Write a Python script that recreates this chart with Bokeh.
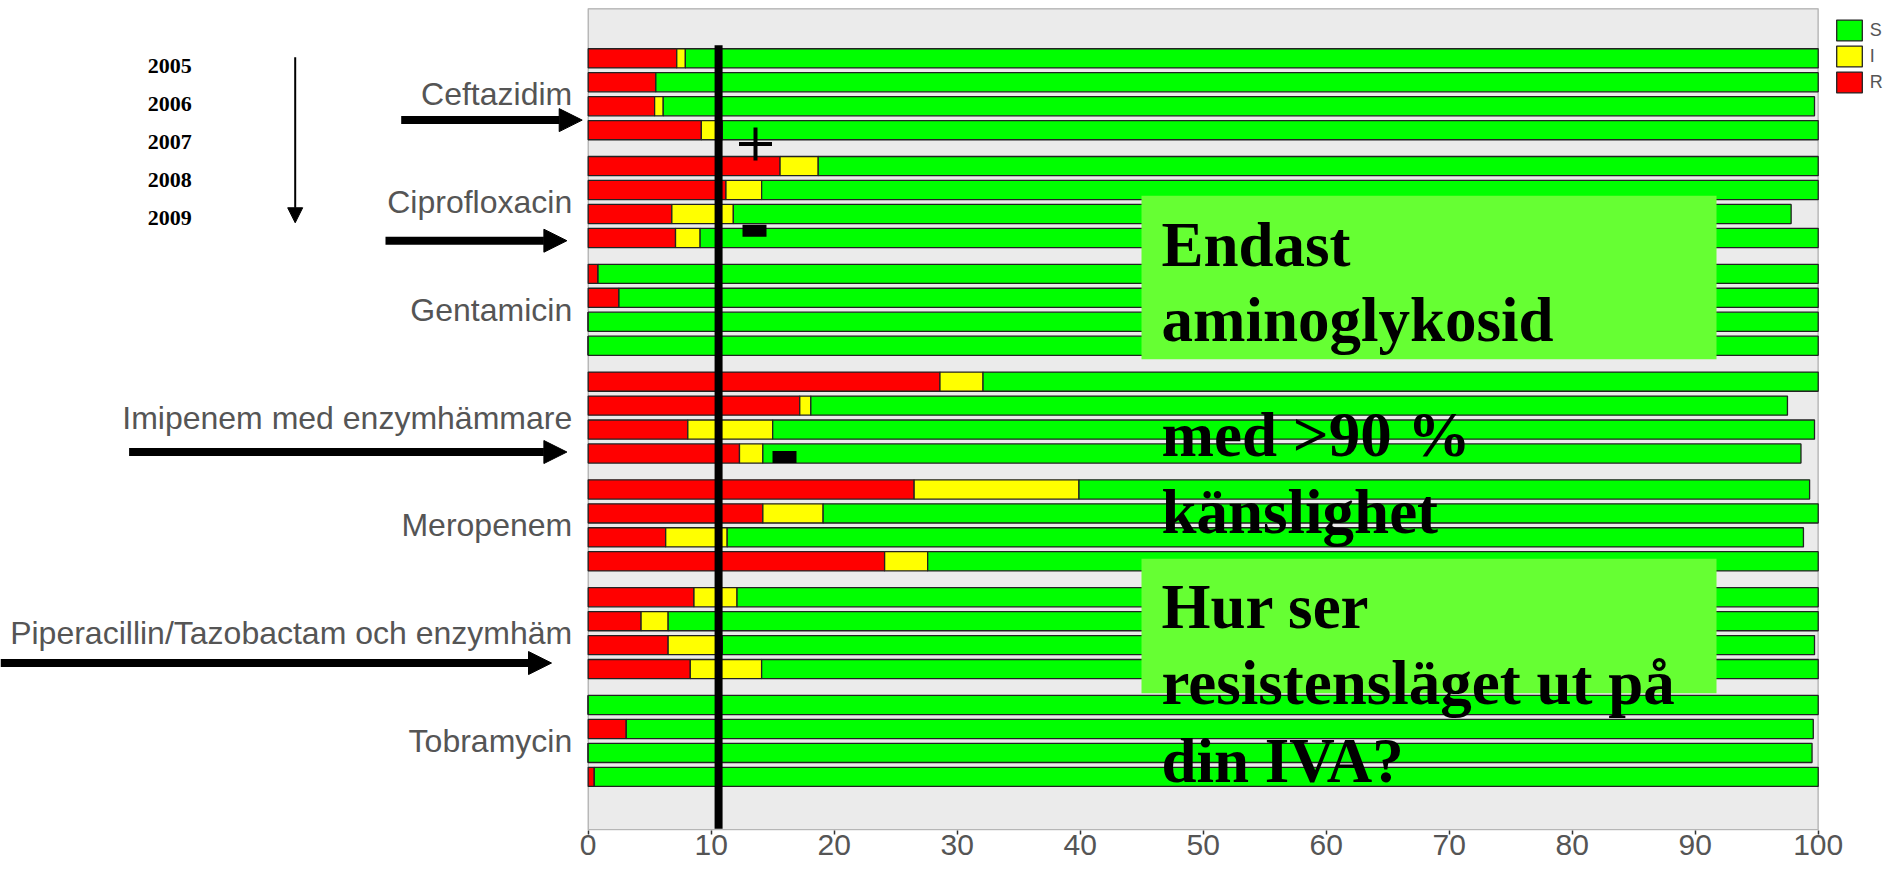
from bokeh.plotting import figure
from bokeh.models import (Range1d, FixedTicker, ColumnDataSource, Label, Arrow,
                          NormalHead, BoxAnnotation, Legend, LegendItem)
from bokeh.embed import file_html
from bokeh.resources import INLINE

# ---------------- data ----------------
antibiotics = ["Ceftazidim", "Ciprofloxacin", "Gentamicin",
               "Imipenem med enzymhämmare", "Meropenem",
               "Piperacillin/Tazobactam och enzymhäm", "Tobramycin"]
years = ["2005", "2006", "2007", "2008", "2009"]

# percent per antibiotic, four bars each (top to bottom)
resistant = [
    [7.2, 5.5, 5.4, 9.2],
    [15.6, 11.2, 6.8, 7.1],
    [0.8, 2.5, 0.0, 0.0],
    [28.6, 17.2, 8.1, 12.3],
    [26.5, 14.2, 6.3, 24.1],
    [8.6, 4.3, 6.5, 8.3],
    [0.0, 3.1, 0.0, 0.5],
]
intermediate = [
    [0.7, 0.0, 0.7, 1.7],
    [3.1, 2.9, 5.0, 2.0],
    [0.0, 0.0, 0.0, 0.0],
    [3.5, 0.9, 6.9, 1.9],
    [13.4, 4.9, 5.0, 3.5],
    [3.5, 2.2, 4.4, 5.8],
    [0.0, 0.0, 0.0, 0.0],
]
susceptible = [
    [92.1, 94.5, 93.6, 89.1],
    [81.3, 85.9, 86.0, 90.9],
    [99.2, 97.5, 100.0, 100.0],
    [67.9, 79.4, 84.7, 84.4],
    [59.4, 80.9, 87.5, 72.4],
    [87.9, 93.5, 88.8, 85.9],
    [100.0, 96.5, 99.5, 99.5],
]
x_ticks = [0, 10, 20, 30, 40, 50, 60, 70, 80, 90, 100]
breakpoint_line = 10.6

# ---------------- layout helpers ----------------
GROUP_PITCH = 4.5
BAR_H = 0.8
REF_X0, REF_PX = 587.7, 12.3     # reference pixel geometry for annotations
REF_Y0, REF_PY = 58.0, 24.03


def dx(px):
    return (px - REF_X0) / REF_PX


def dy(py):
    return (py - REF_Y0) / REF_PY


ys, r_end, i_end, s_end = [], [], [], []
for g in range(len(antibiotics)):
    for k in range(len(resistant[g])):
        ys.append(g * GROUP_PITCH + k)
        r = resistant[g][k]
        i = intermediate[g][k]
        s = susceptible[g][k]
        r_end.append(r)
        i_end.append(r + i)
        s_end.append(r + i + s)

src = ColumnDataSource(dict(y=ys, zero=[0] * len(ys), r=r_end, i=i_end, s=s_end))
centers = [g * GROUP_PITCH + 1.5 for g in range(len(antibiotics))]

W, H = 1888, 869
BOTTOM = 39
FRAME_H = H - BOTTOM
p = figure(width=W, height=H, output_backend="svg", toolbar_location=None,
           x_range=Range1d(dx(0), dx(W)), y_range=Range1d(dy(832.7), dy(0)),
           min_border_left=0, min_border_right=0, min_border_top=0,
           min_border_bottom=BOTTOM)
p.background_fill_color = "white"
p.border_fill_color = "white"
p.outline_line_color = None
p.xgrid.visible = False
p.ygrid.visible = False

# grey panel of the chart (0..100 %)
p.add_layout(BoxAnnotation(left=0, right=100, top=dy(8.3), bottom=dy(832.0),
                           fill_color="#EBEBEB", fill_alpha=1.0,
                           line_color="#333333", line_width=1.5, level="underlay"))

bar_kw = dict(height=BAR_H, line_color="#222222", line_width=1.3, source=src)
rR = p.hbar(y="y", left="zero", right="r", fill_color="#FF0000", **bar_kw)
rI = p.hbar(y="y", left="r", right="i", fill_color="#FFFF00", **bar_kw)
rS = p.hbar(y="y", left="i", right="s", fill_color="#00FF00", **bar_kw)

# axes
p.xaxis.ticker = FixedTicker(ticks=x_ticks)
p.xaxis.major_tick_out = 4
p.xaxis.major_tick_in = 0
p.xaxis.minor_tick_out = 0
p.xaxis.minor_tick_in = 0
p.xaxis.axis_line_color = None
p.xaxis.major_tick_line_color = "#333333"
p.xaxis.major_tick_line_width = 1.5
p.xaxis.major_label_text_font = "Liberation Sans"
p.xaxis.major_label_text_font_size = "30px"
p.xaxis.major_label_text_color = "#555555"
p.xaxis.major_label_standoff = 0

p.yaxis.fixed_location = 0
p.yaxis.ticker = FixedTicker(ticks=centers)
p.yaxis.major_label_overrides = {c: n for c, n in zip(centers, antibiotics)}
p.yaxis.axis_line_color = None
p.yaxis.major_tick_out = 0
p.yaxis.major_tick_in = 0
p.yaxis.minor_tick_out = 0
p.yaxis.minor_tick_in = 0
p.yaxis.major_label_text_font = "Liberation Sans"
p.yaxis.major_label_text_font_size = "32px"
p.yaxis.major_label_text_color = "#555555"
p.yaxis.major_label_standoff = 16

# breakpoint line and +/- marks
p.segment(x0=[breakpoint_line], y0=[dy(45)], x1=[breakpoint_line], y1=[dy(831)],
          line_width=8, line_color="black")
p.scatter(x=[dx(755)], y=[dy(144)], marker="cross", size=33, line_width=4,
          line_color="black")
p.rect(x=[dx(754), dx(784)], y=[dy(231), dy(458)], width=24, height=12,
       width_units="screen", height_units="screen", fill_color="black",
       line_color=None)

# green text boxes
for top, bot in [(196, 360), (560, 695)]:
    p.add_layout(BoxAnnotation(left=dx(1141), right=dx(1716), top=dy(top),
                               bottom=dy(bot), fill_color="#66FF33",
                               fill_alpha=1.0, line_alpha=0))

serif = dict(text_font="Liberation Serif", text_font_style="bold",
             text_color="black", text_baseline="alphabetic")
BASE_SHIFT = 0.35  # em: correction between requested and drawn baseline
for txt, base in [("Endast", 267), ("aminoglykosid", 343), ("med >90 %", 458),
                  ("känslighet", 535), ("Hur ser", 630.7),
                  ("resistensläget ut på", 706.7), ("din IVA?", 785)]:
    p.add_layout(Label(x=dx(1161), y=dy(base - BASE_SHIFT * 63), text=txt,
                       text_font_size="63px", **serif))

# year list with downward arrow
for n, yr in enumerate(years):
    p.add_layout(Label(x=dx(147.3), y=dy(73 + n * 38.25 - BASE_SHIFT * 22), text=yr,
                       text_font_size="22px", **serif))
p.add_layout(Arrow(end=NormalHead(size=15, fill_color="black", line_color="black",
                                  line_width=1),
                   x_start=dx(294.7), y_start=dy(57), x_end=dx(294.7), y_end=dy(223),
                   line_width=2, line_color="black"))

# thick arrows pointing to selected antibiotics
for x0, x1, yy in [(400.7, 581.7, 120), (385, 566.4, 241),
                   (128.6, 566.4, 453), (0, 551, 664.7)]:
    p.add_layout(Arrow(end=NormalHead(size=23, fill_color="black",
                                      line_color="black", line_width=1),
                       x_start=dx(x0), y_start=dy(yy), x_end=dx(x1), y_end=dy(yy),
                       line_width=8, line_color="black"))

# legend (S / I / R squares at the top right)
legend = Legend(items=[LegendItem(label="S", renderers=[rS]),
                       LegendItem(label="I", renderers=[rI]),
                       LegendItem(label="R", renderers=[rR])],
                location=(1832.8, FRAME_H - 17 - 78),
                glyph_width=32, glyph_height=26, spacing=0, padding=0, margin=0,
                label_standoff=5, label_text_font="Liberation Sans",
                label_text_font_size="18px", label_text_color="#555555",
                border_line_alpha=0, background_fill_alpha=0)
p.add_layout(legend)

open("out.html", "w").write(file_html(p, INLINE))
